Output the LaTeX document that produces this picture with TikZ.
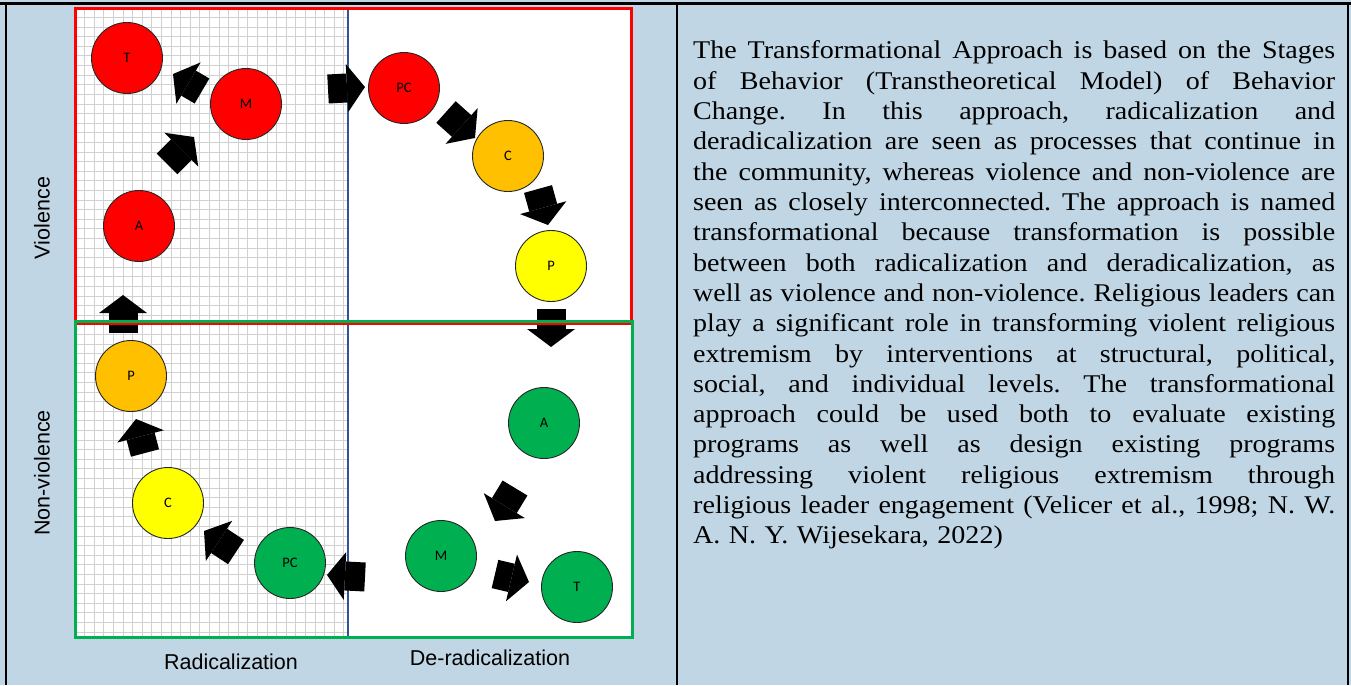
\documentclass[tikz,border=0pt]{standalone}
\usepackage{fontspec}
\setmainfont{Liberation Serif}[FakeStretch=1.1]
\newfontfamily\labelfont{Liberation Sans}
\newfontfamily\stagefont{Carlito}
\usetikzlibrary{arrows.meta,calc}

\definecolor{cellblue}{RGB}{192,214,228}
\definecolor{vred}{RGB}{255,0,0}
\definecolor{vorange}{RGB}{255,192,0}
\definecolor{vyellow}{RGB}{255,255,0}
\definecolor{vgreen}{RGB}{0,176,80}
\definecolor{divblue}{RGB}{47,85,151}
\definecolor{gridgray}{RGB}{208,208,208}

\newcommand{\jline}[1]{\leavevmode\hbox to 642pt{\spaceskip=0.25em plus 3em minus 0.06em\relax #1}}

\begin{document}
\begin{tikzpicture}[x=1pt,y=-1pt,
    stage/.style={circle, draw=black!85, line width=0.9pt, minimum size=71pt,
      inner sep=0pt, font=\stagefont\fontsize{14.5}{15}\selectfont},
    blockarr/.style={line width=29pt, -{Triangle[width=48pt,length=18pt,line width=0pt]}},
    axis/.style={font=\labelfont\fontsize{21.5}{24}\selectfont},
    gridline/.style={gridgray, line width=1pt}]
    \useasboundingbox (0,0) rectangle (1351,685);
    \fill[cellblue] (0,0) rectangle (1351,685);

    % table rules
    \draw[line width=2.5pt] (0,3.5) -- (1351,3.5);
    \draw[line width=2.5pt] (6,3.5) -- (6,685);
    \draw[line width=2.5pt] (677,3.5) -- (677,685);
    \draw[line width=2.5pt] (1348,3.5) -- (1348,685);

    % panel and grid
    \fill[white] (74,7) rectangle (632,638);
    \draw[divblue!70, line width=0.8pt] (74,7) rectangle (632,638);
    \foreach \gx in {0,...,28}
        \draw[gridline] ({75+9.6*\gx},8) -- ({75+9.6*\gx},637);
    \foreach \gy in {0,...,65}
        \draw[gridline] (75,{8+9.6*\gy}) -- (348,{8+9.6*\gy});
    \draw[divblue, line width=2pt] (348,7) -- (348,638);

    % violence stages
    \node[stage, fill=vred] (vTr) at (127,58) {T};
    \node[stage, fill=vred] (vMr) at (246,104) {M};
    \node[stage, fill=vred] (vAr) at (139,226) {A};
    \node[stage, fill=vred] (vPCr) at (404,88) {PC};
    \node[stage, fill=vorange] (vCo) at (508,156) {C};
    \node[stage, fill=vyellow] (vPy) at (551,266) {P};

    % non-violence stages
    \node[stage, fill=vgreen] (vAg) at (544,423) {A};
    \node[stage, fill=vgreen] (vMg) at (441,556) {M};
    \node[stage, fill=vgreen] (vTg) at (577,587) {T};
    \node[stage, fill=vgreen] (vPCg) at (290,563) {PC};
    \node[stage, fill=vyellow] (vCy) at (168,503) {C};
    \node[stage, fill=vorange] (vPo) at (131,376) {P};

    \draw[blockarr] ($(vAr)+(28,-62)$) -- ($(vMr)+(-52,33)$);
    \draw[blockarr] ($(vMr)+(-44,-13)$) -- ($(vTr)+(46,16)$);
    \draw[blockarr] ($(vMr)+(82,-15)$) -- ($(vPCr)+(-39,-1)$);
    \draw[blockarr] ($(vPCr)+(42,24)$) -- ($(vCo)+(-33,-18)$);
    \draw[blockarr] ($(vCo)+(30,33)$) -- ($(vPy)+(-3,-41)$);
    \draw[blockarr] ($(vPy)+(0,43)$) -- ($(vAg)+(7,-76)$);
    \draw[blockarr] ($(vAg)+(-29,65)$) -- ($(vMg)+(54,-35)$);
    \draw[blockarr] ($(vMg)+(54,18)$) -- ($(vTg)+(-48,-5)$);
    \draw[blockarr] ($(vMg)+(-76,21)$) -- ($(vPCg)+(37,12)$);
    \draw[blockarr] ($(vPCg)+(-54,-11)$) -- ($(vCy)+(36,28)$);
    \draw[blockarr] ($(vCy)+(-23,-50)$) -- ($(vPo)+(5,43)$);
    \draw[blockarr] ($(vPo)+(-8,-43)$) -- ($(vAr)+(-16,69)$);

    % quadrant frames
    \draw[vred, line width=3pt] (75.5,8.5) rectangle (631,323.5);
    \draw[vgreen, line width=3pt] (75.5,321) rectangle (632,637);

    % axis labels
    \node[axis, rotate=90] (lViol) at (42,218) {Violence};
    \node[axis, rotate=90] (lNonv) at (42,473) {Non-violence};
    \node[axis] (lRad) at (231,662) {Radicalization};
    \node[axis] (lDerad) at (490,658) {De-radicalization};

    % description
    \node[anchor=base west, text width=642pt, align=left, inner sep=0pt,
      font=\frenchspacing\fontsize{25.5}{30.3}\selectfont] (desc) at (693,59) {%
        \jline{The Transformational Approach is based on the Stages}\\
        \jline{of Behavior (Transtheoretical Model) of Behavior}\\
        \jline{Change. In this approach, radicalization and}\\
        \jline{deradicalization are seen as processes that continue in}\\
        \jline{the community, whereas violence and non-violence are}\\
        \jline{seen as closely interconnected. The approach is named}\\
        \jline{transformational because transformation is possible}\\
        \jline{between both radicalization and deradicalization, as}\\
        \jline{well as violence and non-violence. Religious leaders can}\\
        \jline{play a significant role in transforming violent religious}\\
        \jline{extremism by interventions at structural, political,}\\
        \jline{social, and individual levels. The transformational}\\
        \jline{approach could be used both to evaluate existing}\\
        \jline{programs as well as design existing programs}\\
        \jline{addressing violent religious extremism through}\\
        \jline{religious leader engagement (Velicer et al., 1998; N. W.}\\
        A. N. Y. Wijesekara, 2022)};
\end{tikzpicture}
\end{document}
